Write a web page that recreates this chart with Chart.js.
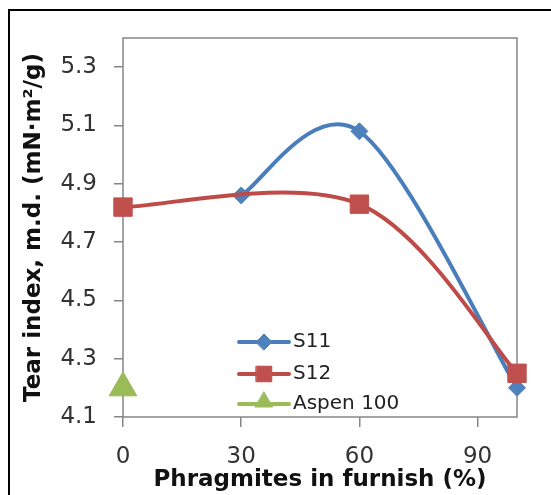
<!DOCTYPE html>
<html>
<head>
<meta charset="utf-8">
<script src="https://cdn.jsdelivr.net/npm/chart.js@4/dist/chart.umd.min.js"></script>
<style>
  html, body { margin: 0; padding: 0; background: #fff; overflow: hidden; }
  #wrap { position: relative; width: 551px; height: 495px; }
  #frame { position: absolute; left: 8px; top: 9px; width: 600px; height: 600px; border: 2px solid #000; box-sizing: border-box; }
  #myChart { position: absolute; left: 0; top: 0; }
</style>
</head>
<body>
<div id="wrap">
  <div id="frame"></div>
  <canvas id="myChart" width="551" height="495"></canvas>
</div>
<script>
// tick labels
const xTicks = [0, 30, 60, 90];
const yTicks = [4.1, 4.3, 4.5, 4.7, 4.9, 5.1, 5.3];

// series (x = % phragmites, y = tear index)
const s11X = [30, 60, 100];
const s11Y = [4.86, 5.08, 4.20];
const s12X = [0, 60, 100];
const s12Y = [4.82, 4.83, 4.25];
const aspenX = [0];
const aspenY = [4.20];

const seriesNames = ['S11', 'S12', 'Aspen 100'];

const blue = '#4A7EBB', blueFill = '#4F81BD';
const red = '#BE4B48', redFill = '#C0504D';
const green = '#9BBB59';

const pts = (xs, ys) => xs.map((x, i) => ({ x: x, y: ys[i] }));

// Excel-style smoothing: catmull-rom, 1/6 of neighbour chord
const excelSmooth = {
  id: 'excelSmooth',
  beforeDatasetDraw(chart, args) {
    const line = args.meta.dataset;
    if (!line || line.options.showLine === false) return;
    line.updateControlPoints(chart.chartArea, args.meta.indexAxis);
    const p = args.meta.data;
    for (let i = 0; i < p.length; i++) {
      const prev = p[i - 1] || p[i], next = p[i + 1] || p[i];
      p[i].cp1x = p[i].x - (next.x - prev.x) / 6;
      p[i].cp1y = p[i].y - (next.y - prev.y) / 6;
      p[i].cp2x = p[i].x + (next.x - prev.x) / 6;
      p[i].cp2y = p[i].y + (next.y - prev.y) / 6;
    }
    delete line._path;
  }
};

// plot frame + legend inside the plot
const extras = {
  id: 'extras',
  beforeDatasetsDraw(chart) {
    const a = chart.chartArea, ctx = chart.ctx;
    ctx.save();
    ctx.strokeStyle = '#868686';
    ctx.lineWidth = 1.5;
    ctx.strokeRect(a.left, a.top, a.right - a.left, a.bottom - a.top);
    ctx.restore();
  },
  afterDraw(chart) {
    const ctx = chart.ctx;
    const items = [
      { line: blue, fill: blueFill, style: 'rectRot', r: 8, y: 342 },
      { line: red, fill: redFill, style: 'rect', r: 11, y: 374 },
      { line: green, fill: green, style: 'triangle', r: 10, y: 404 }
    ];
    ctx.save();
    items.forEach((it, i) => {
      ctx.strokeStyle = it.line;
      ctx.lineWidth = 4;
      ctx.lineCap = 'round';
      ctx.beginPath();
      ctx.moveTo(239, it.y);
      ctx.lineTo(289, it.y);
      ctx.stroke();
      ctx.fillStyle = it.fill;
      ctx.strokeStyle = it.fill;
      ctx.lineWidth = 1;
      Chart.helpers.drawPoint(ctx, { pointStyle: it.style, radius: it.r, rotation: 0, borderWidth: 1 }, 264, it.style === 'triangle' ? it.y - 2 : it.y);
      ctx.fillStyle = '#222';
      ctx.font = '20px "DejaVu Sans"';
      ctx.textBaseline = 'middle';
      ctx.textAlign = 'left';
      ctx.fillText(seriesNames[i], 293, it.y);
    });
    ctx.restore();
  }
};

new Chart(document.getElementById('myChart'), {
  type: 'line',
  data: {
    datasets: [
      {
        label: seriesNames[0],
        data: pts(s11X, s11Y),
        borderColor: blue,
        backgroundColor: blueFill,
        borderWidth: 4,
        tension: 0.4,
        pointStyle: 'rectRot',
        pointRadius: 8.5,
        pointBorderColor: blueFill,
        pointBorderWidth: 1,
        clip: false,
        order: 2
      },
      {
        label: seriesNames[1],
        data: pts(s12X, s12Y),
        borderColor: red,
        backgroundColor: redFill,
        borderWidth: 4,
        tension: 0.4,
        pointStyle: 'rect',
        pointRadius: 13,
        pointBorderColor: redFill,
        pointBorderWidth: 1,
        clip: false,
        order: 1
      },
      {
        label: seriesNames[2],
        data: pts(aspenX, aspenY),
        borderColor: green,
        backgroundColor: green,
        showLine: false,
        pointStyle: 'triangle',
        pointRadius: 16,
        pointBorderColor: green,
        pointBorderWidth: 1,
        clip: false,
        order: 0
      }
    ]
  },
  options: {
    responsive: false,
    animation: false,
    devicePixelRatio: 1,
    layout: { padding: { left: 10, right: 34, top: 38, bottom: 0 } },
    plugins: {
      legend: { display: false },
      tooltip: { enabled: false }
    },
    scales: {
      x: {
        type: 'linear',
        min: 0,
        max: 100,
        afterBuildTicks: axis => { axis.ticks = xTicks.map(v => ({ value: v })); },
        afterFit: axis => { axis.height = 78; },
        grid: { drawOnChartArea: false, drawTicks: true, tickLength: 10, color: '#868686', lineWidth: 1.5 },
        border: { display: false },
        ticks: { padding: 16, color: '#333', font: { family: 'DejaVu Sans', size: 23 }, maxRotation: 0 },
        title: {
          display: true,
          text: 'Phragmites in furnish (%)',
          color: '#111',
          font: { family: 'DejaVu Sans', size: 23, weight: 'bold' },
          padding: { top: 0, bottom: 1 }
        }
      },
      y: {
        type: 'linear',
        min: 4.1,
        max: 5.4,
        afterBuildTicks: axis => { axis.ticks = yTicks.map(v => ({ value: v })); },
        afterFit: axis => { axis.width = 113; },
        grid: { drawOnChartArea: false, drawTicks: true, tickLength: 9, color: '#868686', lineWidth: 1.5 },
        border: { display: false },
        ticks: { padding: 17, color: '#333', font: { family: 'DejaVu Sans', size: 23 }, callback: v => v.toFixed(1) },
        title: {
          display: true,
          text: 'Tear index, m.d. (mN·m²/g)',
          color: '#111',
          font: { family: 'DejaVu Sans', size: 23, weight: 'bold' },
          padding: { top: 10, bottom: 0 }
        }
      }
    }
  },
  plugins: [excelSmooth, extras]
});
</script>
</body>
</html>
